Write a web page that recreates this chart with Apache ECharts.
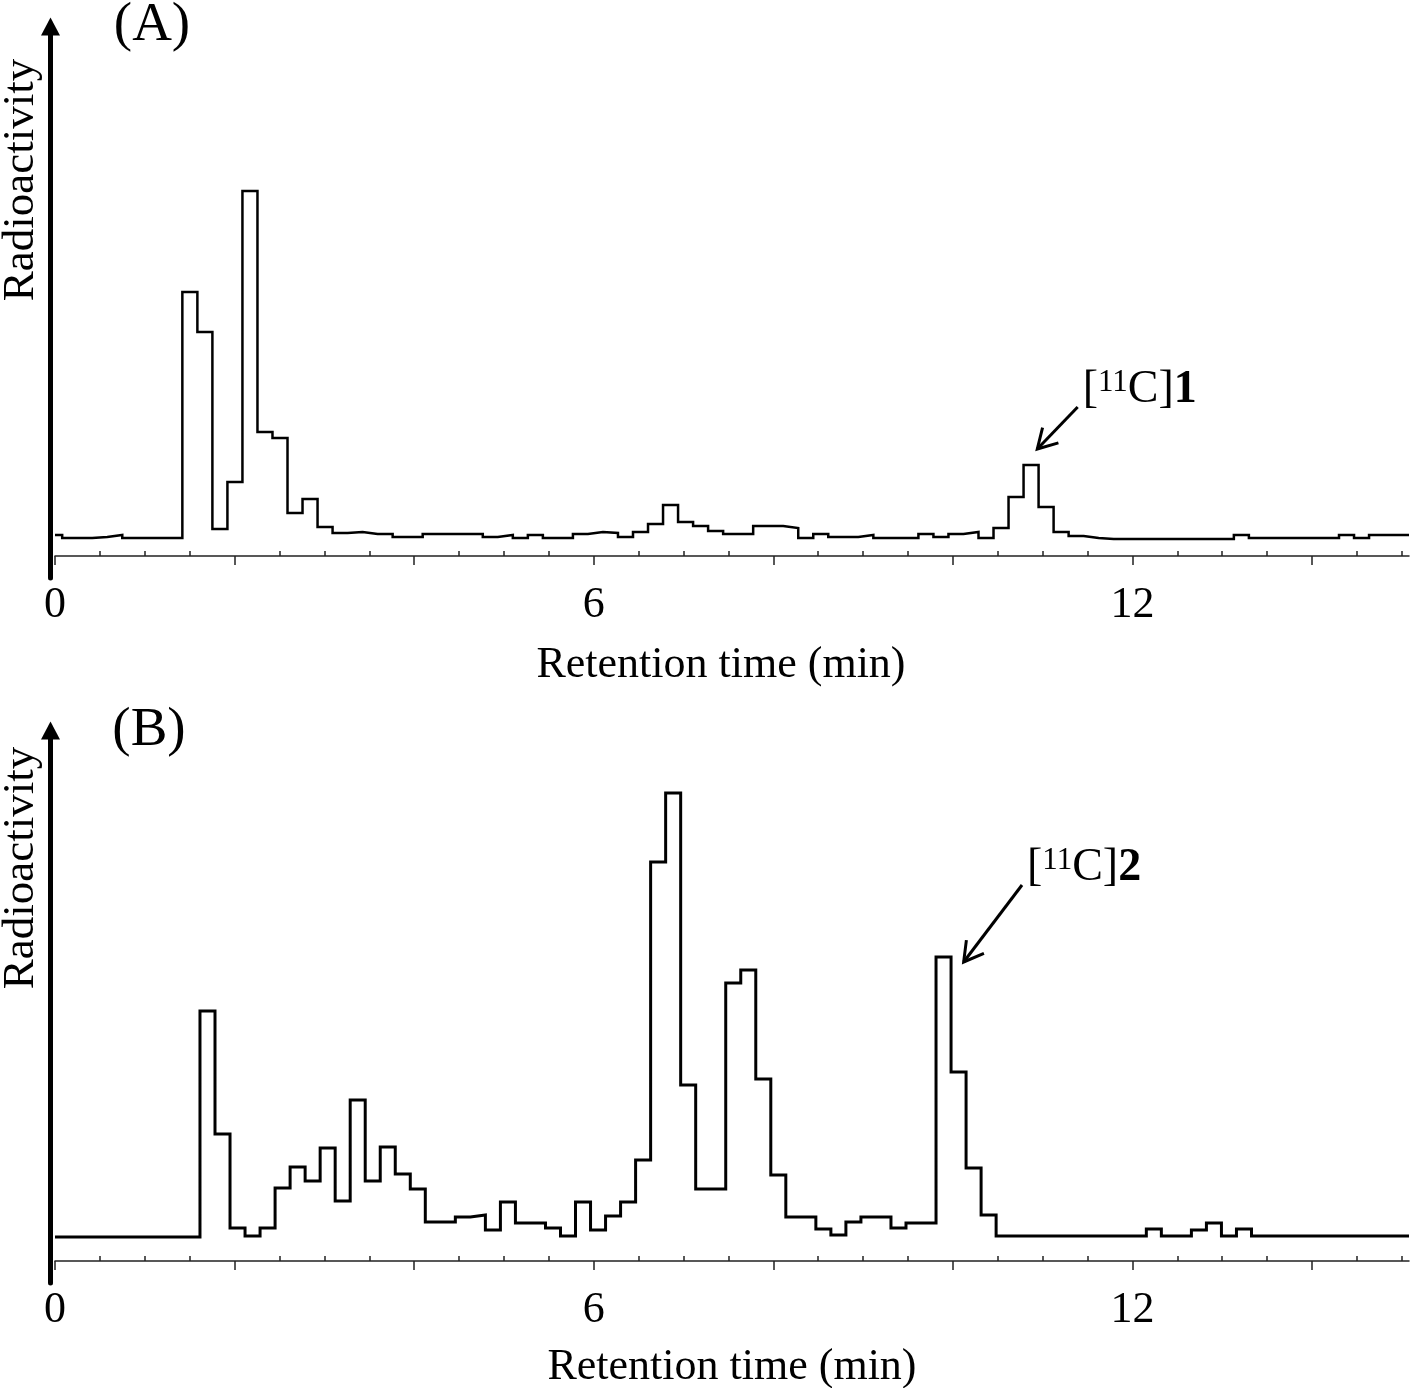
<!DOCTYPE html>
<html>
<head>
<meta charset="utf-8">
<script src="https://cdn.jsdelivr.net/npm/echarts@6/dist/echarts.min.js"></script>
<style>
html,body{margin:0;padding:0;background:#ffffff;}
#chart{width:1411px;height:1388px;}
</style>
</head>
<body>
<div id="chart"></div>
<script>
// ---- Data -------------------------------------------------------------
// Detector trace is binned: first bin edge (min) and bin width (min)
const sampleStartA = 0.08;
const sampleStartB = 0.109;
const sampleStep = 0.1673;
const timeMax = 15.08;

// Radioactivity per bin (arbitrary units), panel (A)
const radioactivityA = [
  21,18,18,19,21,18,18,18,18,
  264,224,27,74,365,124,118,43,57,29,
  23,24,22,22,19,19,22,22,22,22,
  19,21,18,21,18,18,22,24,23,19,
  24,32,51,34,30,25,22,22,30,30,
  28,18,22,19,19,21,18,18,18,22,
  19,22,24,18,28,59,91,49,24,20,
  18,17,17,17,17,17,17,17,17,17,
  21,18,18,18,18,18,18,21,18,21,
  21,21
];
// Radioactivity per bin (arbitrary units), panel (B)
const radioactivityB = [
  24,24,24,24,24,24,24,24,24,24,
  250,127,33,25,33,73,94,80,113,60,
  161,80,114,87,72,39,39,44,46,31,
  59,38,38,33,25,59,31,45,59,101,
  399,468,176,72,72,278,291,182,86,44,
  44,32,26,39,44,44,33,38,38,304,
  189,93,46,25,25,25,25,25,25,25,
  25,25,25,32,25,25,31,38,25,32,
  25,25,25,25,25,25,25,25,25,25,
  25
];

const majorTicks = [0, 2, 4, 6, 8, 10, 12, 14];
const minorTicks = [0.5, 1, 1.5, 2.5, 3, 3.5, 4.5, 5, 5.5, 6.5, 7, 7.5, 8.5, 9, 9.5, 10.5, 11, 11.5, 12.5, 13, 13.5, 14.5, 15];
const tickLabels = [0, 6, 12];
const panelLabels = ['(A)', '(B)'];
const xName = 'Retention time (min)';
const yName = 'Radioactivity';
const peakLabels = ['1', '2'];
// arrow annotations in data coordinates [time, radioactivity]
const arrowFrom = [[11.39, 149], [10.77, 376]];
const arrowTo = [[10.94, 107], [10.12, 299]];

// ---- Build ------------------------------------------------------------
const FONT = "'Liberation Serif', 'Times New Roman', serif";

function toSteps(values, start) {
  const pts = [[0, values[0]]];
  for (let i = 1; i < values.length; i++) {
    pts.push([+(start + (i - 1) * sampleStep).toFixed(4), values[i]]);
  }
  pts.push([timeMax, values[values.length - 1]]);
  return pts;
}

const panels = [
  {top: 26.5, height: 551.5, ymax: 529.5, data: toSteps(radioactivityA, sampleStartA), lw: 2.5, nameGap: 65, namePad: [0, 22, 0, 0]},
  {top: 730.5, height: 552.5, ymax: 530.5, data: toSteps(radioactivityB, sampleStartB), lw: 3, nameGap: 62, namePad: [0, 0, 0, 0]}
];

const axisColor = '#222';
const grids = [], xAxes = [], yAxes = [], series = [];
panels.forEach((p, i) => {
  grids.push({left: 55, right: 2, top: p.top, height: p.height, outerBoundsMode: 'none', containLabel: false});
  xAxes.push({
    type: 'value', gridIndex: i, min: 0, max: timeMax,
    axisLine: {show: true, onZero: true, onZeroAxisIndex: i, lineStyle: {color: axisColor, width: 1.5}},
    axisTick: {show: true, customValues: majorTicks, length: 9, lineStyle: {color: axisColor, width: 1.5}},
    axisLabel: {show: true, customValues: tickLabels, margin: 5, fontSize: 44, fontFamily: FONT, color: '#000'},
    splitLine: {show: false},
    name: xName, nameLocation: 'middle', nameGap: p.nameGap,
    nameTextStyle: {fontSize: 44, fontFamily: FONT, color: '#000', padding: p.namePad}
  });
  xAxes.push({
    type: 'value', gridIndex: i, min: 0, max: timeMax,
    axisLine: {show: false, onZero: true, onZeroAxisIndex: i},
    axisTick: {show: true, customValues: minorTicks, length: 5, lineStyle: {color: axisColor, width: 1.5}},
    axisLabel: {show: false},
    splitLine: {show: false}
  });
  yAxes.push({
    type: 'value', gridIndex: i, min: -22, max: p.ymax, offset: 4.5,
    axisLine: {show: true, onZero: false, symbol: ['none', 'triangle'], symbolSize: [19, 18],
      lineStyle: {color: '#000', width: 5}},
    axisTick: {show: false}, axisLabel: {show: false}, splitLine: {show: false}
  });
  series.push({
    type: 'line', xAxisIndex: i * 2, yAxisIndex: i, data: p.data, step: 'end',
    showSymbol: false, symbol: 'none', silent: true,
    lineStyle: {color: '#000', width: p.lw, join: 'miter'}
  });
});

const chart = echarts.init(document.getElementById('chart'), null, {renderer: 'canvas'});
chart.setOption({
  animation: false,
  backgroundColor: '#ffffff',
  grid: grids, xAxis: xAxes, yAxis: yAxes, series: series
});

// ---- Annotations ------------------------------------------------------
const elements = [
  {type: 'text', x: 152, y: 26, style: {text: panelLabels[0], fontSize: 55, fontFamily: FONT, fill: '#000', align: 'center', verticalAlign: 'middle'}},
  {type: 'text', x: 149, y: 731, style: {text: panelLabels[1], fontSize: 55, fontFamily: FONT, fill: '#000', align: 'center', verticalAlign: 'middle'}},
  {type: 'text', x: 21, y: 180, rotation: Math.PI / 2, style: {text: yName, fontSize: 45, fontFamily: FONT, fill: '#000', align: 'center', verticalAlign: 'middle'}},
  {type: 'text', x: 21, y: 868, rotation: Math.PI / 2, style: {text: yName, fontSize: 45, fontFamily: FONT, fill: '#000', align: 'center', verticalAlign: 'middle'}}
];
const L = 22, th = 30 * Math.PI / 180;
arrowFrom.forEach((from, i) => {
  const p0 = chart.convertToPixel({seriesIndex: i}, from);
  const p1 = chart.convertToPixel({seriesIndex: i}, arrowTo[i]);
  const dx = p0[0] - p1[0], dy = p0[1] - p1[1];
  const len = Math.hypot(dx, dy), ux = dx / len, uy = dy / len;
  const c = Math.cos(th), s = Math.sin(th);
  const a1 = [p1[0] + (ux * c - uy * s) * L, p1[1] + (ux * s + uy * c) * L];
  const a2 = [p1[0] + (ux * c + uy * s) * L, p1[1] + (-ux * s + uy * c) * L];
  elements.push({type: 'polyline', shape: {points: [p0, p1]}, style: {stroke: '#000', lineWidth: 3, fill: null}});
  elements.push({type: 'polyline', shape: {points: [a1, p1, a2]}, style: {stroke: '#000', lineWidth: 3, fill: null, lineJoin: 'miter'}});
  elements.push({
    type: 'text', x: p0[0] + 5, y: p0[1] + 6,
    style: {
      text: '{n|[}{sup|11}{n|C]}{b|' + peakLabels[i] + '}',
      align: 'left', verticalAlign: 'bottom',
      rich: {
        n: {fontSize: 46, fontFamily: FONT, fill: '#000', lineHeight: 46},
        sup: {fontSize: 31, fontFamily: FONT, fill: '#000', verticalAlign: 'top', lineHeight: 31},
        b: {fontSize: 46, fontFamily: FONT, fontWeight: 'bold', fill: '#000', lineHeight: 46}
      }
    }
  });
});
chart.setOption({graphic: {elements: elements}});
</script>
</body>
</html>
